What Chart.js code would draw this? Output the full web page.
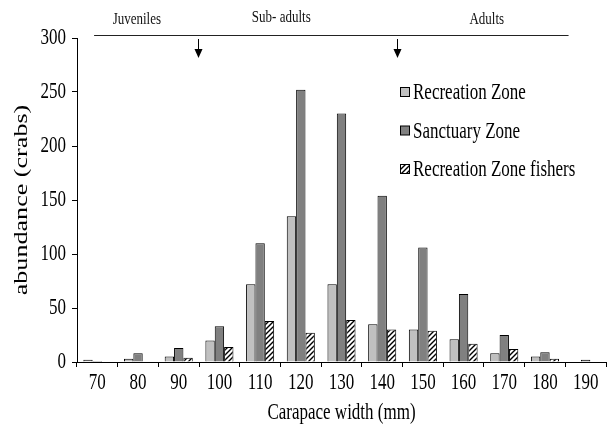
<!DOCTYPE html>
<html>
<head>
<meta charset="utf-8">
<script src="https://cdn.jsdelivr.net/npm/chart.js@4/dist/chart.umd.min.js"></script>
<style>
  html, body { margin: 0; padding: 0; background: #fff; }
  #wrap { width: 610px; height: 434px; position: relative; }
</style>
</head>
<body>
<div id="wrap"><canvas id="c" width="610" height="434"></canvas></div>
<script>
// Carapace width classes (mm)
const categories = ['70', '80', '90', '100', '110', '120', '130', '140', '150', '160', '170', '180', '190'];

// Abundance (crabs) per size class
const recreationZone        = [2, 3, 5, 20, 72, 135, 72, 35, 30, 21, 8, 5, null];
const sanctuaryZone         = [1, 8, 13, 33, 110, 252, 230, 154, 106, 63, 25, 9, 2];
const recreationZoneFishers = [null, null, 4, 14, 38, 27, 39, 30, 29, 17, 12, 3, null];

const seriesNames = ['Recreation Zone', 'Sanctuary Zone', 'Recreation Zone fishers'];

// Life-stage bands along the top (positions in carapace width, mm)
const stageLabels = ['Juveniles', 'Sub- adults', 'Adults'];
const stageLabelAt = [79.7, 115.2, 165.7];
const stageLineFrom = 69.2;
const stageLineTo = 185.8;
const stageArrowsAt = [94.7, 143.7];

const xTitle = 'Carapace width (mm)';
const yTitle = 'abundance (crabs)';
const yTickMax = 300;
const yTickStep = 50;

const SERIF = '"Liberation Serif", "Times New Roman", serif';
const TALL = 1.32; // glyphs are set tall and narrow

// Diagonal hatching for the fishers series
function makeHatch() {
  const s = 5;
  const cv = document.createElement('canvas');
  cv.width = s; cv.height = s;
  const g = cv.getContext('2d');
  g.fillStyle = '#fff';
  g.fillRect(0, 0, s, s);
  g.strokeStyle = '#000';
  g.lineWidth = 1.4;
  g.beginPath();
  g.moveTo(-1, s + 1); g.lineTo(s + 1, -1);
  g.moveTo(-1, 1); g.lineTo(1, -1);
  g.moveTo(s - 1, s + 1); g.lineTo(s + 1, s - 1);
  g.stroke();
  return g.createPattern(cv, 'repeat');
}
const ctx0 = document.getElementById('c').getContext('2d');
const hatch = makeHatch();

const fills = ['#c0c0c0', '#808080', hatch];

// category value (mm) -> fractional index on the category scale
const mmToIndex = mm => (mm - 70) / 10;

// text with a vertical stretch around its anchor
function tallText(c, text, x, y, size, align, baseline, stretch) {
  c.save();
  c.translate(x, y);
  c.scale(1, stretch);
  c.font = size + 'px ' + SERIF;
  c.textAlign = align;
  c.textBaseline = baseline;
  c.fillText(text, 0, 0);
  c.restore();
}

const textPlugin = {
  id: 'texts',
  afterDraw(chart) {
    const x = chart.scales.x;
    const y = chart.scales.y;
    const area = chart.chartArea;
    const c = chart.ctx;
    c.save();
    c.fillStyle = '#000';

    // tick labels
    y.ticks.forEach((t, i) => {
      tallText(c, String(t.value), 66, y.getPixelForTick(i), 17, 'right', 'middle', TALL);
    });
    x.ticks.forEach((t, i) => {
      tallText(c, categories[i], x.getPixelForTick(i), 383, 17, 'center', 'middle', TALL);
    });

    // axis titles
    tallText(c, xTitle, (area.left + area.right) / 2, 413, 17, 'center', 'middle', TALL);
    c.save();
    c.translate(22, (area.top + area.bottom) / 2);
    c.rotate(-Math.PI / 2);
    c.scale(1.45, 1);
    c.font = '18px ' + SERIF;
    c.textAlign = 'center';
    c.textBaseline = 'middle';
    c.fillText(yTitle, 0, 0);
    c.restore();

    // life-stage band line
    c.strokeStyle = '#222';
    c.lineWidth = 1;
    c.beginPath();
    c.moveTo(x.getPixelForValue(mmToIndex(stageLineFrom)), 35.5);
    c.lineTo(x.getPixelForValue(mmToIndex(stageLineTo)), 35.5);
    c.stroke();
    c.fillStyle = '#111';
    const ys = [19, 17, 19];
    stageLabels.forEach((t, i) => {
      tallText(c, t, x.getPixelForValue(mmToIndex(stageLabelAt[i])), ys[i], 13, 'center', 'middle', TALL);
    });

    // stage boundary arrows
    c.fillStyle = '#000';
    c.strokeStyle = '#000';
    stageArrowsAt.forEach(mm => {
      const px = Math.round(x.getPixelForValue(mmToIndex(mm))) + 0.5;
      c.lineWidth = 1;
      c.beginPath();
      c.moveTo(px, 39);
      c.lineTo(px, 50);
      c.stroke();
      c.beginPath();
      c.moveTo(px - 4, 49);
      c.lineTo(px + 4, 49);
      c.lineTo(px, 58);
      c.closePath();
      c.fill();
    });

    // legend
    const baselines = [99, 137.5, 176];
    seriesNames.forEach((name, i) => {
      const by = baselines[i] - 12;
      c.fillStyle = fills[i];
      c.fillRect(400.5, by + 0.5, 9, 9);
      c.strokeStyle = '#000';
      c.lineWidth = 1;
      c.strokeRect(400.5, by + 0.5, 9, 9);
      c.fillStyle = '#000';
      tallText(c, name, 413, baselines[i], 17, 'left', 'alphabetic', TALL);
    });
    c.restore();
  }
};

new Chart(ctx0, {
  type: 'bar',
  data: {
    labels: categories,
    datasets: [
      { label: seriesNames[0], data: recreationZone, backgroundColor: fills[0] },
      { label: seriesNames[1], data: sanctuaryZone, backgroundColor: fills[1] },
      { label: seriesNames[2], data: recreationZoneFishers, backgroundColor: fills[2] }
    ]
  },
  options: {
    responsive: false,
    animation: false,
    devicePixelRatio: 1,
    layout: { padding: { top: 38, right: 4, left: 0, bottom: 0 } },
    datasets: {
      bar: {
        borderColor: '#000',
        borderWidth: 1,
        categoryPercentage: 0.69,
        barPercentage: 1.0
      }
    },
    plugins: {
      legend: { display: false },
      tooltip: { enabled: false }
    },
    scales: {
      x: {
        grid: { display: true, offset: true, drawOnChartArea: false, drawTicks: true, tickLength: 5, color: '#000' },
        border: { display: true, color: '#000', width: 1 },
        ticks: { color: 'rgba(0,0,0,0)', font: { family: SERIF, size: 17 }, padding: 8, maxRotation: 0 },
        title: { display: false },
        afterFit(scale) { scale.height = 72; }
      },
      y: {
        min: 0,
        max: yTickMax,
        grid: { display: true, drawOnChartArea: false, drawTicks: true, tickLength: 5, color: '#000' },
        border: { display: true, color: '#000', width: 1 },
        ticks: { stepSize: yTickStep, color: 'rgba(0,0,0,0)', font: { family: SERIF, size: 17 }, padding: 6 },
        title: { display: false },
        afterFit(scale) { scale.width = 77; }
      }
    }
  },
  plugins: [textPlugin]
});
</script>
</body>
</html>
